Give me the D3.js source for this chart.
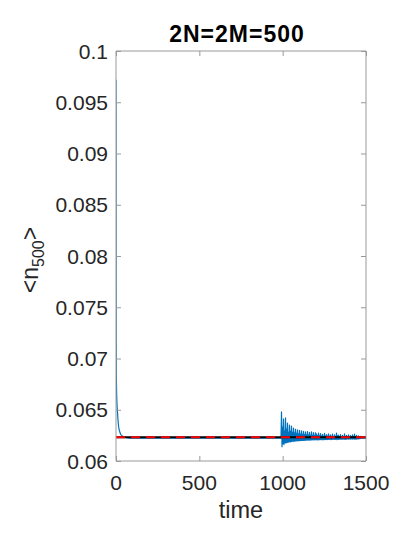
<!DOCTYPE html>
<html>
<head>
<meta charset="utf-8">
<script src="https://cdn.jsdelivr.net/npm/d3@7"></script>
<style>
  html, body { margin: 0; padding: 0; background: #fff; }
  svg { display: block; }
  text { font-family: "Liberation Sans", Arial, Helvetica, sans-serif; fill: #262626; }
</style>
</head>
<body>
<svg id="chart" width="415" height="537"></svg>
<script>
// ---------------- DATA ----------------
const titleText = "2N=2M=500";
const xLabelText = "time";
const xTicks = [0, 500, 1000, 1500];
const xTickLabels = ["0", "500", "1000", "1500"];
const yTicks = [0.06, 0.065, 0.07, 0.075, 0.08, 0.085, 0.09, 0.095, 0.1];
const yTickLabels = ["0.06", "0.065", "0.07", "0.075", "0.08", "0.085", "0.09", "0.095", "0.1"];

// initial decay and plateau of <n500>
const decayTime  = [0, 1, 2, 4, 6, 8, 12, 16, 20, 25, 30, 40, 55, 80, 990];
const decayValue = [0.0972, 0.0720, 0.0682, 0.0665, 0.0655, 0.0650, 0.0640, 0.0633, 0.0630, 0.06272, 0.06255, 0.0624, 0.0623, 0.06223, 0.06222];

// oscillations after the perturbation at t≈990 (sampled every 3 time units)
const oscStart = 990;
const oscStep = 3;
const oscValue = [
  0.06225, 0.06480, 0.06140, 0.06330, 0.06170, 0.06410, 0.06160, 0.06290, 0.06180, 0.06420,
  0.06175, 0.06310, 0.06185, 0.06370, 0.06180, 0.06280, 0.06190, 0.06350, 0.06185, 0.06290,
  0.06190, 0.06340, 0.06190, 0.06280, 0.06195, 0.06320, 0.06190, 0.06275, 0.06195, 0.06310,
  0.06195, 0.06270, 0.06198, 0.06305, 0.06195, 0.06265, 0.06200, 0.06300, 0.06198, 0.06262,
  0.06200, 0.06295, 0.06200, 0.06260, 0.06202, 0.06290, 0.06200, 0.06258, 0.06204, 0.06285,
  0.06202, 0.06255, 0.06205, 0.06288, 0.06203, 0.06252, 0.06206, 0.06280, 0.06204, 0.06250,
  0.06207, 0.06284, 0.06205, 0.06250, 0.06208, 0.06278, 0.06206, 0.06248, 0.06208, 0.06275,
  0.06207, 0.06262, 0.06208, 0.06248, 0.06206, 0.06272, 0.06209, 0.06245, 0.06207, 0.06268,
  0.06210, 0.06244, 0.06208, 0.06260, 0.06206, 0.06243, 0.06210, 0.06270, 0.06209, 0.06242,
  0.06211, 0.06258, 0.06208, 0.06242, 0.06211, 0.06265, 0.06210, 0.06240, 0.06212, 0.06256,
  0.06209, 0.06241, 0.06212, 0.06262, 0.06211, 0.06239, 0.06213, 0.06254, 0.06210, 0.06240,
  0.06212, 0.06272, 0.06208, 0.06245, 0.06213, 0.06252, 0.06211, 0.06238, 0.06214, 0.06258,
  0.06212, 0.06238, 0.06214, 0.06250, 0.06212, 0.06237, 0.06215, 0.06266, 0.06210, 0.06240,
  0.06214, 0.06250, 0.06213, 0.06236, 0.06215, 0.06254, 0.06213, 0.06237, 0.06215, 0.06248,
  0.06214, 0.06236, 0.06216, 0.06256, 0.06213, 0.06238, 0.06216, 0.06262, 0.06212, 0.06238,
  0.06216, 0.06250, 0.06214, 0.06236, 0.06217, 0.06246, 0.06215, 0.06236, 0.06218, 0.06240,
  0.06222
];

const tailTime  = [1500];
const tailValue = [0.06222];

// theoretical value (black solid + red dashed)
const refTime  = [0, 1500];
const refValue = [0.06232, 0.06232];

// ---------------- LAYOUT ----------------
const svg = d3.select("#chart");
const plot = { left: 116, right: 366, top: 51, bottom: 461 };

const x = d3.scaleLinear().domain([0, 1500]).range([plot.left, plot.right]);
const y = d3.scaleLinear().domain([0.06, 0.1]).range([plot.bottom, plot.top]);

// build series
const series = [];
decayTime.forEach((t, i) => series.push([t, decayValue[i]]));
oscValue.forEach((v, i) => series.push([oscStart + i * oscStep, v]));
tailTime.forEach((t, i) => series.push([t, tailValue[i]]));
series.sort((a, b) => a[0] - b[0]);

const refSeries = refTime.map((t, i) => [t, refValue[i]]);

const line = d3.line().x(d => x(d[0])).y(d => y(d[1]));

// clip
svg.append("clipPath").attr("id", "clip")
  .append("rect").attr("x", plot.left).attr("y", plot.top)
  .attr("width", plot.right - plot.left).attr("height", plot.bottom - plot.top);

const g = svg.append("g").attr("clip-path", "url(#clip)");

g.append("path").datum(series)
  .attr("d", line).attr("fill", "none")
  .attr("stroke", "#0072BD").attr("stroke-width", 1.2)
  .attr("stroke-linejoin", "round");

g.append("path").datum(refSeries)
  .attr("d", line).attr("fill", "none")
  .attr("stroke", "#000").attr("stroke-width", 2);

g.append("path").datum(refSeries)
  .attr("d", line).attr("fill", "none")
  .attr("stroke", "#FF0000").attr("stroke-width", 2)
  .attr("stroke-dasharray", "9,6");

// axes (MATLAB style box with inward ticks)
const axisColor = "#999999";
const tickLen = 5;

const bottomAxis = d3.axisBottom(x).tickValues(xTicks).tickSize(-tickLen).tickFormat("");
const topAxis = d3.axisTop(x).tickValues(xTicks).tickSize(-tickLen).tickFormat("");
const leftAxis = d3.axisLeft(y).tickValues(yTicks).tickSize(-tickLen).tickFormat("");
const rightAxis = d3.axisRight(y).tickValues(yTicks).tickSize(-tickLen).tickFormat("");

function styleAxis(sel) {
  sel.selectAll("path.domain").attr("stroke", axisColor).attr("stroke-width", 1);
  sel.selectAll(".tick line").attr("stroke", axisColor).attr("stroke-width", 1);
}

svg.append("g").attr("transform", `translate(0,${plot.bottom})`).call(bottomAxis).call(styleAxis)
  .select("path.domain").attr("d", `M${plot.left},0H${plot.right}`);
svg.append("g").attr("transform", `translate(0,${plot.top})`).call(topAxis).call(styleAxis)
  .select("path.domain").attr("d", `M${plot.left},0H${plot.right}`);
svg.append("g").attr("transform", `translate(${plot.left},0)`).call(leftAxis).call(styleAxis)
  .select("path.domain").attr("d", `M0,${plot.top}V${plot.bottom}`);
svg.append("g").attr("transform", `translate(${plot.right},0)`).call(rightAxis).call(styleAxis)
  .select("path.domain").attr("d", `M0,${plot.top}V${plot.bottom}`);

// tick labels
svg.append("g").selectAll("text").data(xTicks).join("text")
  .attr("x", d => x(d)).attr("y", plot.bottom + 29)
  .attr("text-anchor", "middle").attr("font-size", 21)
  .text((d, i) => xTickLabels[i]);

svg.append("g").selectAll("text").data(yTicks).join("text")
  .attr("x", plot.left - 8).attr("y", d => y(d) + 7.5)
  .attr("text-anchor", "end").attr("font-size", 21)
  .text((d, i) => yTickLabels[i]);

// title
svg.append("text")
  .attr("x", 237).attr("y", 42)
  .attr("text-anchor", "middle").attr("font-size", 23).attr("font-weight", "bold")
  .attr("letter-spacing", 1)
  .style("fill", "#000")
  .text(titleText);

// x label
svg.append("text")
  .attr("x", (plot.left + plot.right) / 2).attr("y", 518)
  .attr("text-anchor", "middle").attr("font-size", 23.5)
  .text(xLabelText);

// y label <n_500>
const yl = svg.append("text")
  .attr("transform", `translate(38,${(plot.top + plot.bottom) / 2 + 4}) rotate(-90)`)
  .attr("text-anchor", "middle").attr("font-size", 23);
yl.append("tspan").text("<n");
yl.append("tspan").attr("font-size", 16).attr("dy", 6).text("500");
yl.append("tspan").attr("dy", -6).text(">");
</script>
</body>
</html>
